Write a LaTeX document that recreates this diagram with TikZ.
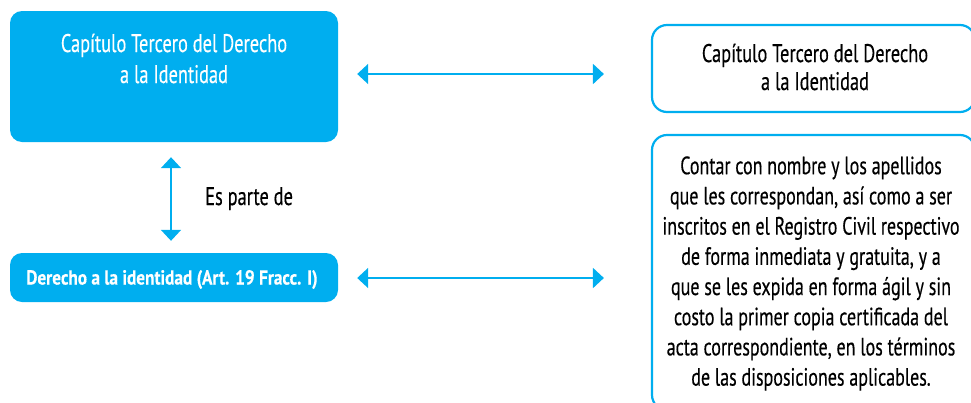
\documentclass[tikz,border=0pt]{standalone}
\usepackage{fontspec}
\setmainfont[FakeStretch=0.72,FakeBold=0.35]{PT Sans}
\newfontfamily\boldnarrow[FakeStretch=0.85,FakeBold=0.3]{PT Sans}
\usetikzlibrary{arrows.meta}
\definecolor{cyanb}{RGB}{0,174,239}
\tikzset{
  bluebox/.style={rectangle, rounded corners=12pt, fill=cyanb, draw=none, inner sep=0pt, text=white},
  outbox/.style={rectangle, rounded corners=15pt, draw=cyanb, line width=2.2pt, fill=white, inner sep=0pt, text=black},
  arr/.style={draw=cyanb, line width=2pt, {Triangle[length=11pt,width=20pt]}-{Triangle[length=11pt,width=20pt]}},
  lbl/.style={inner sep=0pt, text=black},
  bskip/.style={execute at begin node={\setlength{\baselineskip}{#1}}}
}
\begin{document}
\begin{tikzpicture}[x=1pt,y=-1pt]
\useasboundingbox (0,0) rectangle (971,402);
\clip (0,0) rectangle (971,402);
% boxes
\node[bluebox, minimum width=328pt, minimum height=131pt] (lt) at (174,76.5) {};
\node[text=white, align=center, font=\fontsize{25.5}{31}\selectfont, bskip=31pt, inner sep=0pt] (ltt) at (174,58.5) {Capítulo Tercero del Derecho\\a la Identidad};
\node[bluebox, minimum width=328pt, minimum height=49pt] (lb) at (174,277.5) {};
\node[text=white, inner sep=0pt, font=\boldnarrow\fontsize{20.3}{24}\selectfont\bfseries] (lbt) at (172,279.5) {Derecho a la identidad (Art. 19 Fracc. I)};
\node[outbox, minimum width=323pt, minimum height=87pt] (rt) at (813.5,68.5) {};
\node[lbl, align=center, font=\fontsize{25.5}{28}\selectfont, bskip=28pt] (rtt) at (815,67) {Capítulo Tercero del Derecho\\a la Identidad};
\node[outbox, minimum width=323pt, minimum height=275pt] (rb) at (813.5,272.5) {};
\node[lbl, align=center, font=\fontsize{25}{30.2}\selectfont, bskip=30.2pt] (rbt) at (811,273.5) {Contar con nombre y los apellidos\\que les correspondan, así como a ser\\inscritos en el Registro Civil respectivo\\de forma inmediata y gratuita, y a\\que se les expida en forma ágil y sin\\costo la primer copia certificada del\\acta correspondiente, en los términos\\de las disposiciones aplicables.};
% label
\node[lbl, anchor=base west, font=\fontsize{25.5}{28}\selectfont] (ep) at (205,205) {Es parte de};
% connectors
\coordinate (a1) at (0,74);
\coordinate (a2) at (0,278);
\draw[arr, shorten <=19pt, shorten >=47pt] (lt.east |- a1) -- (rt.west |- a1);
\draw[arr, shorten <=19pt, shorten >=47pt] (lb.east |- a2) -- (rb.west |- a2);
\draw[arr, shorten <=15pt, shorten >=12pt] ([xshift=-3pt]lt.south) -- ([xshift=-3pt]lb.north);
\end{tikzpicture}
\end{document}
